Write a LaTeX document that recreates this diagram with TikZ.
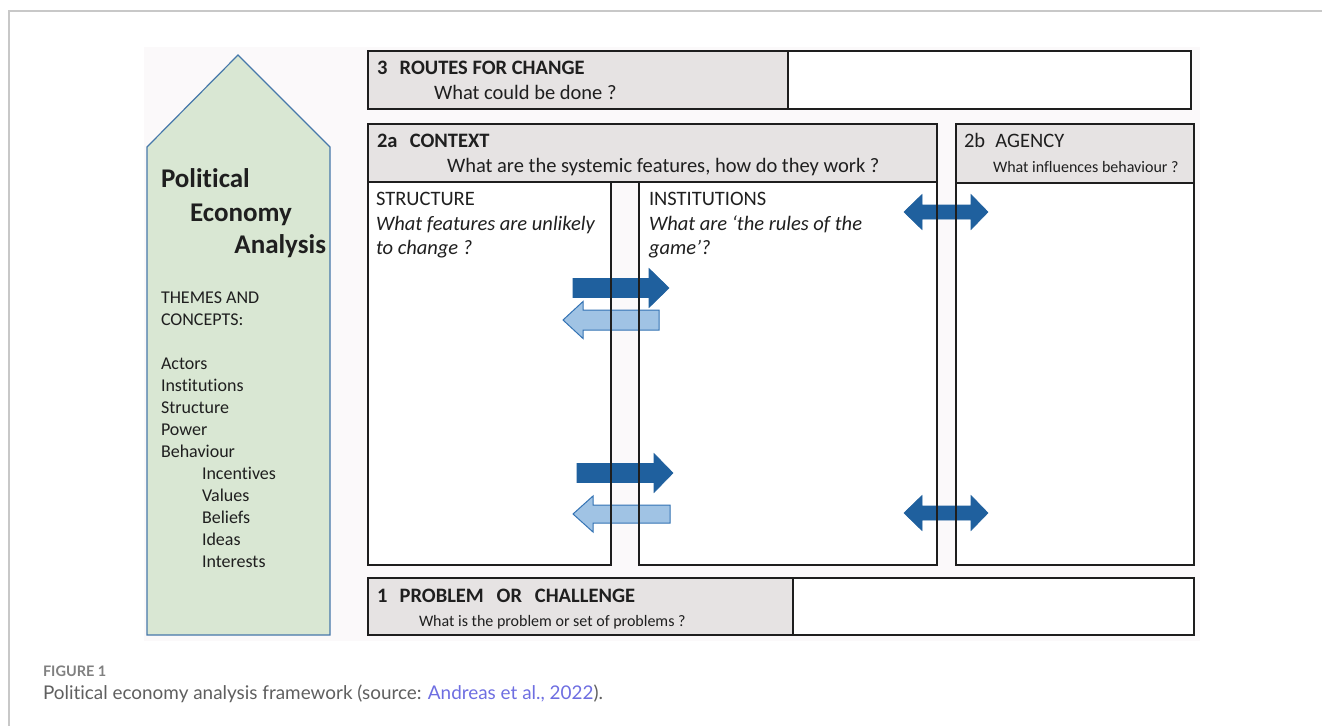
\documentclass[tikz,border=0pt]{standalone}
\usepackage{fontspec}
\setmainfont{Carlito}[Ligatures=NoCommon]
\newfontfamily\capfont{Lato}[Ligatures=NoCommon]
\definecolor{hdrgray}{RGB}{230,227,227}
\definecolor{pegreen}{RGB}{217,231,211}
\definecolor{peblue}{RGB}{70,120,170}
\definecolor{darkblue}{RGB}{31,96,158}
\definecolor{lightblue}{RGB}{160,195,228}
\definecolor{lightedge}{RGB}{52,115,180}
\definecolor{framegray}{RGB}{200,200,200}
\definecolor{capgray}{RGB}{95,95,95}
\definecolor{linkblue}{RGB}{110,110,225}
\definecolor{bggray}{RGB}{251,249,250}
\definecolor{linecol}{RGB}{30,30,30}
\begin{document}
\begin{tikzpicture}[x=1pt,y=-1pt,
  hdr/.style={fill=hdrgray,draw=linecol,line width=1.7pt,anchor=north west,inner sep=0,outer sep=0},
  wbox/.style={fill=white,draw=linecol,line width=1.7pt,anchor=north west,inner sep=0,outer sep=0},
  txt/.style={anchor=base west,inner sep=0,outer sep=0,text=black!88},
  bigt/.style={txt,font=\fontsize{20.5}{24}\selectfont},
  bigb/.style={txt,font=\fontsize{20.5}{24}\selectfont\bfseries},
  bigi/.style={txt,font=\fontsize{20.5}{24}\selectfont\itshape},
  smallt/.style={txt,font=\fontsize{16}{19}\selectfont},
  listt/.style={txt,font=\fontsize{18}{22}\selectfont},
  pet/.style={txt,font=\fontsize{27}{30}\selectfont\bfseries},
  darrow/.style={fill=darkblue,draw=darkblue,line width=0.6pt},
  larrow/.style={fill=lightblue,draw=lightedge,line width=1pt},
  vline/.style={draw=linecol,line width=1.7pt}
]
\useasboundingbox (0,0) rectangle (1322,726);
% page frame
\draw[framegray,line width=1.6pt] (1322,11) -- (9,11) -- (9,726);
% diagram background
\fill[bggray] (144,47) rectangle (1200,641);

% green pentagon
\draw[fill=pegreen,draw=peblue,line width=1.2pt] (147,635) -- (147,147) -- (238,55) -- (330,147) -- (330,635) -- cycle;
\node[pet] (pol) at (161,187) {Political};
\node[pet] (eco) at (190,221) {Economy};
\node[pet,anchor=base east] (ana) at (326,253) {Analysis};
\node[listt] (th1) at (161,303) {THEMES AND};
\node[listt] (th2) at (161,325) {CONCEPTS:};
\foreach \t [count=\i from 0] in {Actors,Institutions,Structure,Power,Behaviour}
  \node[listt] (la\i) at (161,369+22*\i) {\t};
\foreach \t [count=\i from 5] in {Incentives,Values,Beliefs,Ideas,Interests}
  \node[listt] (la\i) at (202,369+22*\i) {\t};

% box 3
\node[wbox,minimum width=823pt,minimum height=58pt] (b3) at (368,51) {};
\node[hdr,minimum width=420pt,minimum height=58pt] (b3h) at (368,51) {};
\node[bigb] (b3t) at (377,74) {3\hspace{0.6em}ROUTES FOR CHANGE};
\node[bigt] (b3s) at (434,99) {What could be done ?};

% box 2a
\node[hdr,minimum width=569pt,minimum height=58pt] (b2ah) at (368,124) {};
\node[wbox,minimum width=243pt,minimum height=383pt] (bstr) at (368,182) {};
\node[wbox,minimum width=298pt,minimum height=383pt] (binst) at (639,182) {};
\node[bigb] (b2at) at (377,147) {2a\hspace{0.6em}CONTEXT};
\node[bigt] (b2as) at (447,172) {What are the systemic features, how do they work ?};
\node[bigt] (strt) at (376,205) {STRUCTURE};
\node[bigi] (strs1) at (376,230) {What features are unlikely};
\node[bigi] (strs2) at (376,254) {to change ?};
\node[bigt] (inst) at (649,205) {INSTITUTIONS};
\node[bigi] (ins1) at (649,230) {What are `the rules of the};
\node[bigi] (ins2) at (649,254) {game'?};

% box 2b
\node[hdr,minimum width=238pt,minimum height=59pt] (b2bh) at (956,124) {};
\node[wbox,minimum width=238pt,minimum height=382pt] (b2b) at (956,183) {};
\node[bigt] (b2bt) at (964,147) {2b\hspace{0.5em}AGENCY};
\node[smallt] (b2bs) at (993,172) {What influences behaviour ?};

% box 1
\node[wbox,minimum width=826pt,minimum height=57pt] (b1) at (368,578) {};
\node[hdr,minimum width=425pt,minimum height=57pt] (b1h) at (368,578) {};
\node[bigb] (b1t) at (377,602) {1\hspace{0.6em}PROBLEM\hspace{0.4em} OR\hspace{0.4em} CHALLENGE};
\node[smallt] (b1s) at (419,626) {What is the problem or set of problems ?};

% block arrows
\draw[darrow] (573,278.5) -- (649,278.5) -- (649,268.5) -- (669,288) -- (649,307.5) -- (649,297.5) -- (573,297.5) -- cycle;
\draw[larrow] (659,310) -- (583,310) -- (583,301.5) -- (563,320) -- (583,338.5) -- (583,330) -- (659,330) -- cycle;
\draw[darrow] (577,463.5) -- (654,463.5) -- (654,453.5) -- (673,473) -- (654,492.5) -- (654,482.5) -- (577,482.5) -- cycle;
\draw[larrow] (670,505) -- (593,505) -- (593,496) -- (573,514) -- (593,532) -- (593,523) -- (670,523) -- cycle;
\foreach \c in {212,513}
  \draw[darrow] (904,\c) -- (922,\c-17.5) -- (922,\c-7) -- (971,\c-7) -- (971,\c-17.5) -- (988,\c) -- (971,\c+17.5) -- (971,\c+7) -- (922,\c+7) -- (922,\c+17.5) -- cycle;
% edges visible over arrows
\draw[vline] (bstr.north east) -- (bstr.south east);
\draw[vline] (binst.north west) -- (binst.south west);
\draw[vline] (binst.north east) -- (binst.south east);
\draw[vline] (b2b.north west) -- (b2b.south west);

% caption
\node[txt,font=\capfont\bfseries\fontsize{14.5}{16}\selectfont,text=black!50] (figlab) at (43,676) {FIGURE 1};
\node[txt,font=\capfont\fontsize{18.9}{22}\selectfont,text=capgray] (figcap) at (43,699) {Political economy analysis framework (source: \textcolor{linkblue}{Andreas et al., 2022}).};
\end{tikzpicture}
\end{document}
